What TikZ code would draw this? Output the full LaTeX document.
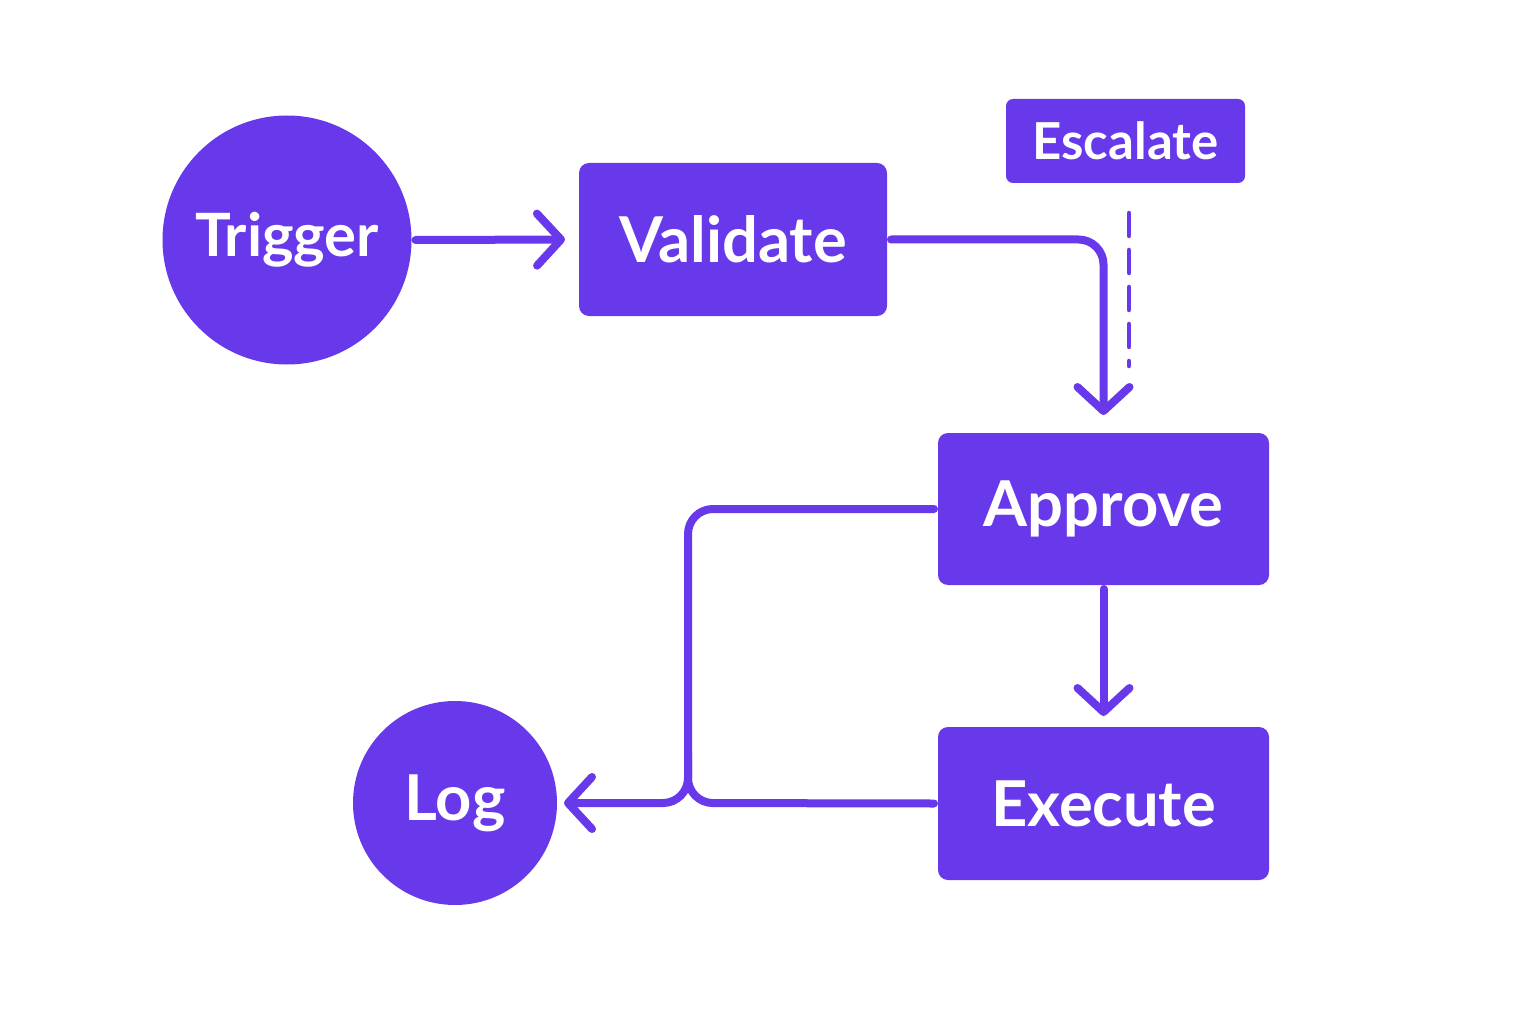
\documentclass[tikz,border=0pt]{standalone}
\usepackage{fontspec}
\setmainfont{Lato}
\usetikzlibrary{arrows.meta}
\definecolor{violet}{HTML}{6739EA}
\begin{document}
\begin{tikzpicture}[x=1cm,y=1cm,line width=0.08cm,
  stepbox/.style={draw=none,fill=violet,rounded corners=0.1cm,text=white,font=\bfseries\fontsize{18}{22}\selectfont},
  roundnode/.style={circle,draw=none,fill=violet,text=white,inner sep=0pt,font=\bfseries\fontsize{18}{22}\selectfont},
  flow/.style={draw=violet,rounded corners=0.25cm,line cap=round,-{Straight Barb[length=2.4mm,width=5.2mm,round]}},
  link/.style={draw=violet,rounded corners=0.25cm,line cap=round}]
  \useasboundingbox[fill=white] (0,0) rectangle (15.36,10.24);
  \node[roundnode,minimum size=2.49cm,font=\bfseries\fontsize{17}{20}\selectfont] (trigger) at (2.87,7.84) {Trigger};
  \node[stepbox,minimum width=3.08cm,minimum height=1.53cm] (validate) at (7.33,7.845) {Validate};
  \node[stepbox,minimum width=2.39cm,minimum height=0.84cm,rounded corners=0.07cm,font=\bfseries\fontsize{14.5}{18}\selectfont] (escalate) at (11.255,8.83) {Escalate};
  \node[stepbox,minimum width=3.31cm,minimum height=1.52cm] (approve) at (11.035,5.15) {Approve};
  \node[stepbox,minimum width=3.31cm,minimum height=1.53cm] (execute) at (11.035,2.205) {Execute};
  \node[roundnode,minimum size=2.04cm] (log) at (4.55,2.21) {Log};
  \coordinate (merge) at (6.88,2.21);

  \draw[flow,shorten >=0.1cm] (trigger.east) -- (validate.west);
  \draw[flow,shorten >=0.14cm] (validate.east) -| (approve.north);
  \draw[violet,line width=0.045cm,line cap=round,dash pattern=on 0.23cm off 0.14cm]
    ([xshift=0.035cm,yshift=-0.26cm]escalate.south) -- ++(0,-1.53);
  \draw[flow,shorten >=0.07cm] (approve.south) -- (execute.north);
  \draw[flow,shorten >=0.03cm] (approve.west) -| (merge) -- (log.east);
  \draw[link] (execute.west) -- (merge) -- ++(0,0.5);
\end{tikzpicture}
\end{document}
